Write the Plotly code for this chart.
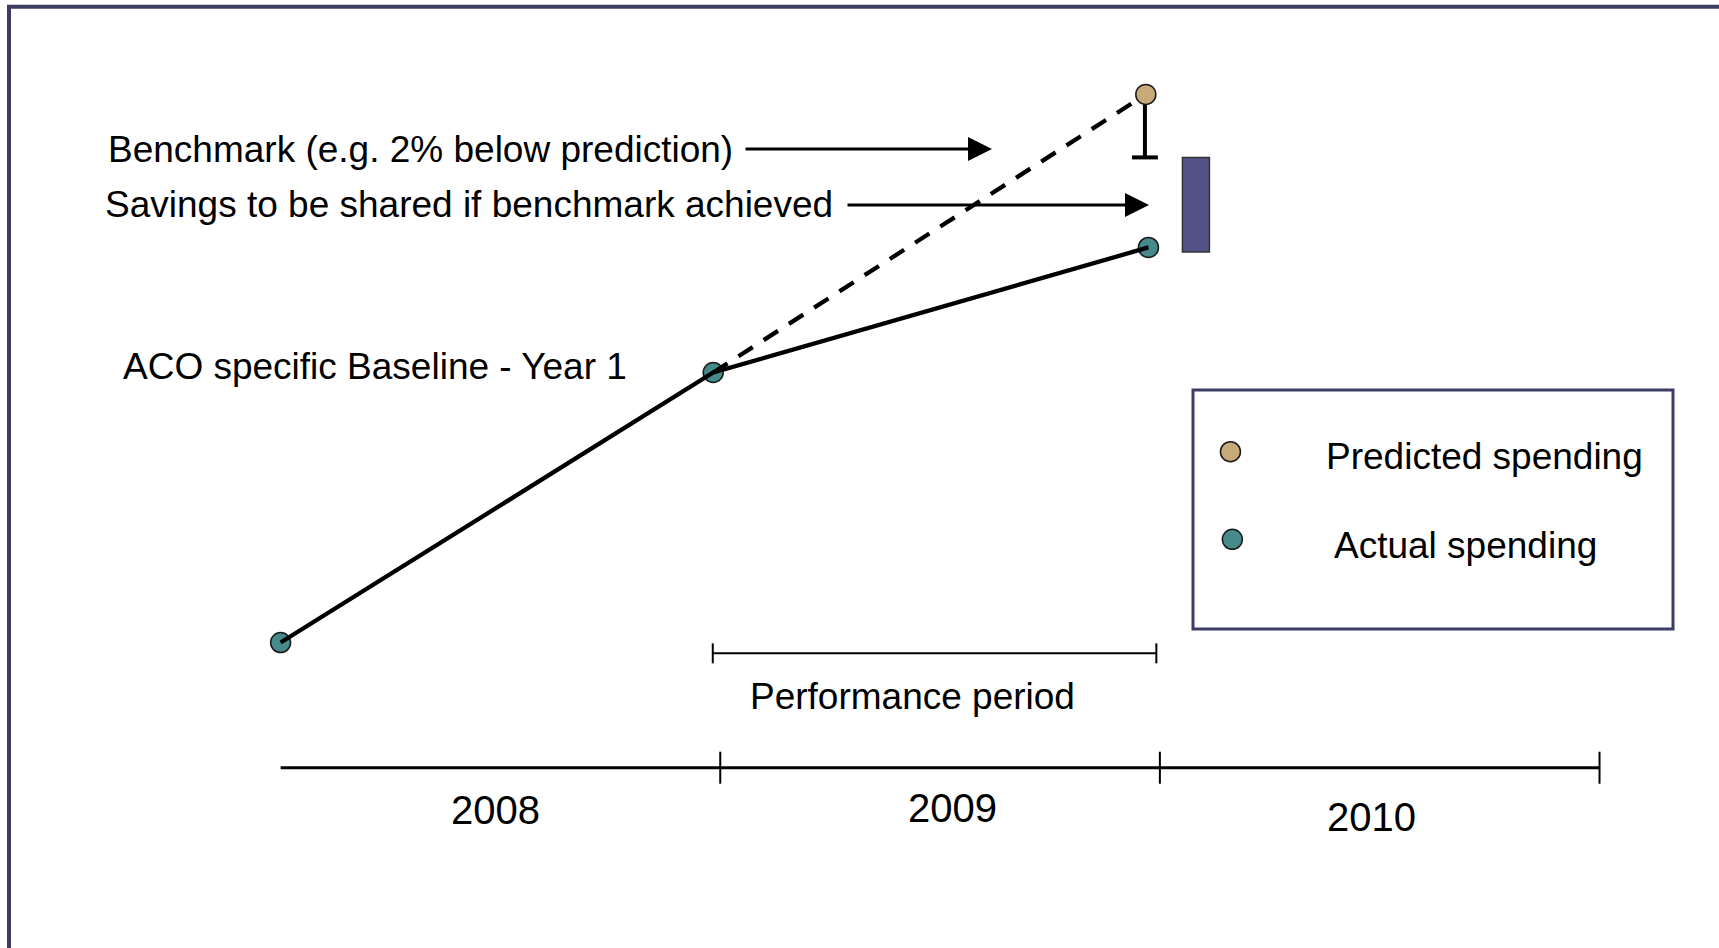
import plotly.graph_objects as go

W, H = 1719, 948
FONT = "Liberation Sans, Arial, sans-serif"

# ---- data -------------------------------------------------------------
# time position (years) and spending index
actual_x = [2008.0, 2008.984, 2009.974]
actual_y = [100.0, 130.0, 143.9]

predicted_x = [2009.968]
predicted_y = [160.9]

benchmark_x = [2009.966]
benchmark_y = [153.9]

savings_x = [2010.082]
savings_low = [143.4]
savings_high = [153.9]
savings_width = 0.0614

period_boundaries = [2008.0, 2009.0, 2010.0, 2011.0]
year_labels = ["2008", "2009", "2010"]

series_names = ["Predicted spending", "Actual spending"]
series_colors = ["#C8AA78", "#468A8C"]

# axis ranges: x in years, y in spending index
X_RANGE = [2007.3617, 2011.2718]
Y_RANGE = [66.06, 171.39]


def fx(px):
    return px / W


def fy(py):
    return 1 - py / H


fig = go.Figure()

# markers first, lines drawn over them
fig.add_trace(go.Scatter(
    x=actual_x, y=actual_y, mode="markers",
    marker=dict(size=20, color=series_colors[1], line=dict(color="#1a1a1a", width=1.5)),
    hoverinfo="skip", showlegend=False))
fig.add_trace(go.Scatter(
    x=[benchmark_x[0], benchmark_x[0]], y=[predicted_y[0], benchmark_y[0]], mode="lines",
    line=dict(color="black", width=4), hoverinfo="skip", showlegend=False))
fig.add_trace(go.Scatter(
    x=benchmark_x, y=benchmark_y, mode="markers",
    marker=dict(symbol="line-ew", size=18.5, line=dict(color="black", width=4)),
    hoverinfo="skip", showlegend=False))

# savings bar between actual spending and benchmark
fig.add_trace(go.Bar(
    x=savings_x, y=[savings_high[0] - savings_low[0]], base=savings_low,
    width=savings_width, marker=dict(color="#525287", line=dict(color="#333333", width=1.5)),
    hoverinfo="skip", showlegend=False))

# actual spending trajectory
fig.add_trace(go.Scatter(
    x=actual_x, y=actual_y, mode="lines",
    line=dict(color="black", width=4.3), hoverinfo="skip", showlegend=False))
# predicted trajectory from the baseline
fig.add_trace(go.Scatter(
    x=[actual_x[1], predicted_x[0]], y=[actual_y[1], predicted_y[0]], mode="lines",
    line=dict(color="black", width=4.3, dash="17px,13px"), hoverinfo="skip", showlegend=False))

# predicted point sits on top of the dashed line
fig.add_trace(go.Scatter(
    x=predicted_x, y=predicted_y, mode="markers",
    marker=dict(size=20, color=series_colors[0], line=dict(color="#1a1a1a", width=1.5)),
    hoverinfo="skip", showlegend=False))

# legend swatches on their own small axes inside the legend box
fig.add_trace(go.Scatter(
    x=[0.078, 0.082], y=[0, 1], mode="markers", xaxis="x2", yaxis="y2",
    marker=dict(size=20, color=series_colors, line=dict(color="#1a1a1a", width=1.5)),
    hoverinfo="skip", showlegend=False))

shapes = []
line_black = dict(color="black", width=3)

# frame
shapes.append(dict(type="line", xref="paper", yref="paper", x0=fx(7), x1=fx(W), y0=fy(6.7), y1=fy(6.7),
                   line=dict(color="#3C3C64", width=4)))
shapes.append(dict(type="line", xref="paper", yref="paper", x0=fx(9), x1=fx(9), y0=fy(5), y1=0,
                   line=dict(color="#3C3C64", width=4)))

# time line with year boundaries
TL_Y = 86.09
TL_TICK = 1.78
shapes.append(dict(type="line", xref="x", yref="y", x0=period_boundaries[0], x1=period_boundaries[-1],
                   y0=TL_Y, y1=TL_Y, line=line_black))
for b in period_boundaries[1:]:
    shapes.append(dict(type="line", xref="x", yref="y", x0=b, x1=b, y0=TL_Y - TL_TICK, y1=TL_Y + TL_TICK,
                       line=dict(color="black", width=2)))

# performance period bracket
PB_Y = 98.8
PB_TICK = 1.11
pb0, pb1 = 2008.983, 2009.992
shapes.append(dict(type="line", xref="x", yref="y", x0=pb0, x1=pb1, y0=PB_Y, y1=PB_Y,
                   line=dict(color="black", width=2)))
for b in (pb0, pb1):
    shapes.append(dict(type="line", xref="x", yref="y", x0=b, x1=b, y0=PB_Y - PB_TICK, y1=PB_Y + PB_TICK,
                       line=dict(color="black", width=2)))

# legend box
shapes.append(dict(type="rect", xref="paper", yref="paper", x0=fx(1193), x1=fx(1673), y0=fy(629), y1=fy(390),
                   line=dict(color="#3C3C64", width=3), fillcolor="rgba(0,0,0,0)"))

annotations = []


def text(s, px, py, size=37, anchor="left"):
    annotations.append(dict(text=s, xref="paper", yref="paper", x=fx(px), y=fy(py),
                            xanchor=anchor, yanchor="middle", showarrow=False,
                            font=dict(family=FONT, size=size, color="black")))


def arrow(tail_px, tip_px, py):
    annotations.append(dict(text="", xref="paper", yref="paper", x=fx(tip_px), y=fy(py),
                            ax=tail_px - tip_px, ay=0, showarrow=True, arrowhead=2,
                            arrowsize=1.5, arrowwidth=3.2, arrowcolor="black", standoff=0))


text("Benchmark (e.g. 2% below prediction)", 106, 149)
arrow(744, 992, 149)
text("Savings to be shared if benchmark achieved", 103, 205)
arrow(846, 1149, 205)
text("ACO specific Baseline - Year 1", 121, 366)
text("Performance period", 748, 696)
text(series_names[0], 1324, 456)
text(series_names[1], 1332, 545)

year_centers = [495.5, 952.7, 1371.5]
year_mid_y = [810, 808, 817]
for lab, cx, cy in zip(year_labels, year_centers, year_mid_y):
    text(lab, cx, cy, size=40, anchor="center")

fig.update_layout(
    width=W, height=H,
    margin=dict(l=0, r=0, t=0, b=0),
    paper_bgcolor="white", plot_bgcolor="white",
    xaxis=dict(range=X_RANGE, visible=False, fixedrange=True),
    yaxis=dict(range=Y_RANGE, visible=False, fixedrange=True),
    xaxis2=dict(domain=[fx(1193), fx(1673)], range=[0, 1], visible=False, anchor="y2"),
    yaxis2=dict(domain=[fy(629), fy(390)], range=[2.024, -0.704], visible=False, anchor="x2"),
    shapes=shapes,
    annotations=annotations,
    showlegend=False,
)

fig.write_html("out.html")
